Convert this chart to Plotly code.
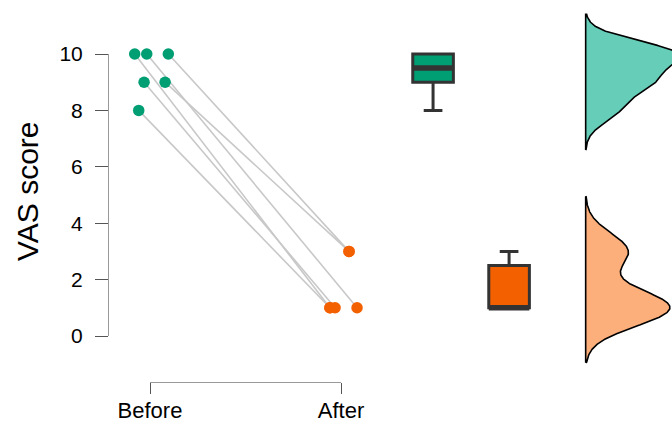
import numpy as np
import plotly.graph_objects as go

# ---- data ----
conditions = ["Before", "After"]
before = [10, 10, 10, 9, 9, 8]
after = [1, 1, 3, 1, 3, 1]
jitter_before = [-0.080, -0.017, 0.096, -0.031, 0.079, -0.059]
jitter_after = [-0.058, 0.084, 0.042, -0.031, 0.042, -0.058]
y_ticks = [0, 2, 4, 6, 8, 10]

# ---- layout constants (pixels) ----
W, H = 672, 424
PX_X1, PX_X2 = 150, 341      # pixel of x=1 and x=2
PX_Y0, PX_Y10 = 336, 54      # pixel of y=0 and y=10
PX_YAXIS = 108
PX_XAXIS = 382
ux = (PX_X2 - PX_X1)
uy = (PX_Y0 - PX_Y10) / 10.0
x_range = [1 - PX_X1 / ux, 1 + (W - PX_X1) / ux]
y_range = [-(H - PX_Y0) / uy, PX_Y0 / uy]

box_pos = [2.482, 2.880]
box_w = 0.2126
violin_base = 3.281
violin_k = 1.073

c_pts = ["#009E73", "#F36000"]
c_box = ["#009E73", "#F36000"]
c_vio = ["#66CDB9", "#FDAF7B"]
FONT = "Liberation Sans, Arial, Helvetica, sans-serif"

fig = go.Figure()

# connecting lines
lx, ly = [], []
for b, a, jb, ja in zip(before, after, jitter_before, jitter_after):
    lx += [1 + jb, 2 + ja, None]
    ly += [b, a, None]
fig.add_trace(go.Scatter(x=lx, y=ly, mode="lines",
                         line=dict(color="#C8C8C8", width=1.6),
                         hoverinfo="skip", showlegend=False))

# points
for i, (vals, jit) in enumerate([(before, jitter_before), (after, jitter_after)]):
    fig.add_trace(go.Scatter(x=[i + 1 + j for j in jit], y=vals, mode="markers",
                             marker=dict(size=11.5, color=c_pts[i]),
                             showlegend=False, name=conditions[i]))

# boxes
for i, vals in enumerate([before, after]):
    v = np.array(vals, dtype=float)
    q1, med, q3 = np.percentile(v, [25, 50, 75])
    iqr = q3 - q1
    lo = v[v >= q1 - 1.5 * iqr].min()
    hi = v[v <= q3 + 1.5 * iqr].max()
    fig.add_trace(go.Box(x=[box_pos[i]], q1=[q1], median=[med], q3=[q3],
                         lowerfence=[lo], upperfence=[hi], width=box_w,
                         fillcolor=c_box[i], line=dict(color="#333333", width=3),
                         whiskerwidth=0.46, boxpoints=False,
                         showlegend=False, hoverinfo="skip"))
    fig.add_trace(go.Scatter(x=[box_pos[i] - box_w / 2, box_pos[i] + box_w / 2],
                             y=[med, med], mode="lines",
                             line=dict(color="#333333", width=5.5),
                             showlegend=False, hoverinfo="skip"))

# half violins (Gaussian KDE, bw.nrd0, cut = 3 bw)
for i, vals in enumerate([before, after]):
    v = np.array(vals, dtype=float)
    n = len(v)
    sd = v.std(ddof=1)
    iqr = np.subtract(*np.percentile(v, [75, 25]))
    bw = 0.9 * min(sd, iqr / 1.34) * n ** (-0.2)
    grid = np.linspace(v.min() - 3 * bw, v.max() + 3 * bw, 512)
    dens = np.exp(-0.5 * ((grid[:, None] - v[None, :]) / bw) ** 2).sum(1) / (n * bw * np.sqrt(2 * np.pi))
    xs = np.concatenate([[violin_base], violin_base + violin_k * dens, [violin_base], [violin_base]])
    ys = np.concatenate([[grid[0]], grid, [grid[-1]], [grid[0]]])
    fig.add_trace(go.Scatter(x=xs, y=ys, mode="lines", fill="toself",
                             fillcolor=c_vio[i], line=dict(color="black", width=1.6),
                             showlegend=False, hoverinfo="skip"))

# axis carrier (invisible) for the detached R-style axes
fig.add_trace(go.Scatter(x=[1, 2], y=[0, 10], xaxis="x2", yaxis="y2", mode="markers",
                         marker=dict(opacity=0), showlegend=False, hoverinfo="skip"))

fig.update_layout(
    width=W, height=H,
    margin=dict(l=0, r=0, t=0, b=0, pad=0, autoexpand=False),
    paper_bgcolor="white", plot_bgcolor="rgba(0,0,0,0)",
    xaxis=dict(range=x_range, visible=False, domain=[0, 1], automargin=False),
    yaxis=dict(range=y_range, visible=False, domain=[0, 1], automargin=False),
    xaxis2=dict(domain=[PX_X1 / W, PX_X2 / W], range=[1, 2], anchor="free",
                position=(H - PX_XAXIS) / H, tickvals=[1, 2], ticktext=conditions,
                ticks="outside", ticklen=11, tickcolor="#555555", tickwidth=1,
                showline=True, linecolor="#999999", linewidth=1,
                showgrid=False, zeroline=False,
                tickfont=dict(family=FONT, size=22, color="black"),
                ticklabelstandoff=-2, automargin=False),
    yaxis2=dict(domain=[(H - PX_Y0) / H, (H - PX_Y10) / H], range=[0, 10], anchor="free",
                position=PX_YAXIS / W, tickvals=y_ticks,
                ticks="outside", ticklen=13, tickcolor="#555555", tickwidth=1,
                showline=True, linecolor="#999999", linewidth=1,
                showgrid=False, zeroline=False,
                tickfont=dict(family=FONT, size=21, color="black"),
                ticklabelstandoff=8, automargin=False),
    annotations=[dict(text="VAS score", xref="paper", yref="paper",
                      x=27 / W, y=(H - 191) / H, textangle=-90,
                      showarrow=False,
                      font=dict(family=FONT, size=30, color="black"),
                      xanchor="center", yanchor="middle")],
)

fig.write_html("out.html", config={"displayModeBar": False},
               post_script="document.body.style.margin='0';document.body.style.overflow='hidden';")
